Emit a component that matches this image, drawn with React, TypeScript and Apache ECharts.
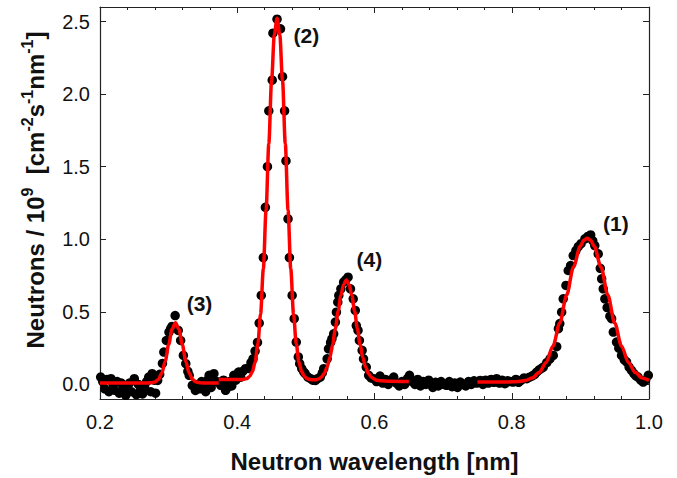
import React, { useEffect, useRef } from "react";
import * as echarts from "echarts";

// Measured points (black dots): wavelength [nm] and intensity [1e9 cm^-2 s^-1 nm^-1]
const measX = [
  0.201, 0.204, 0.207, 0.21, 0.213, 0.216, 0.219, 0.222, 0.225, 0.228,
  0.231, 0.234, 0.2375, 0.24, 0.243, 0.246, 0.25, 0.253, 0.256, 0.259,
  0.262, 0.265, 0.268, 0.271, 0.274, 0.276, 0.279, 0.281, 0.284, 0.287,
  0.291, 0.293, 0.2967, 0.3005, 0.303, 0.305, 0.3095, 0.314, 0.3175, 0.3215,
  0.325, 0.328, 0.33, 0.3345, 0.339, 0.342, 0.345, 0.348, 0.351, 0.354,
  0.357, 0.359, 0.362, 0.366, 0.369, 0.373, 0.376, 0.38, 0.383, 0.386,
  0.389, 0.392, 0.395, 0.398, 0.402, 0.405, 0.408, 0.412, 0.416, 0.42,
  0.423, 0.426, 0.4295, 0.432, 0.435, 0.438, 0.441, 0.444, 0.446, 0.451,
  0.452, 0.458, 0.463, 0.466, 0.469, 0.471, 0.474, 0.476, 0.48, 0.483,
  0.486, 0.489, 0.491, 0.494, 0.497, 0.499, 0.503, 0.507, 0.51, 0.514,
  0.517, 0.521, 0.524, 0.526, 0.531, 0.533, 0.536, 0.538, 0.5405, 0.543,
  0.5445, 0.5465, 0.548, 0.551, 0.555, 0.558, 0.5615, 0.565, 0.569, 0.572,
  0.5735, 0.576, 0.578, 0.582, 0.584, 0.588, 0.5915, 0.595, 0.599, 0.603,
  0.608, 0.612, 0.616, 0.62, 0.624, 0.628, 0.632, 0.636, 0.64, 0.644,
  0.648, 0.651, 0.655, 0.659, 0.663, 0.667, 0.671, 0.675, 0.679, 0.682,
  0.685, 0.689, 0.693, 0.697, 0.701, 0.705, 0.709, 0.713, 0.717, 0.721,
  0.725, 0.729, 0.733, 0.737, 0.741, 0.745, 0.749, 0.754, 0.758, 0.762,
  0.766, 0.77, 0.774, 0.778, 0.782, 0.786, 0.79, 0.794, 0.798, 0.802,
  0.806, 0.81, 0.814, 0.818, 0.822, 0.826, 0.83, 0.8335, 0.8365, 0.84,
  0.843, 0.846, 0.851, 0.8557, 0.8605, 0.8655, 0.868, 0.87, 0.8727, 0.875,
  0.879, 0.8823, 0.8858, 0.8896, 0.8935, 0.897, 0.901, 0.9066, 0.911, 0.915,
  0.918, 0.921, 0.926, 0.929, 0.931, 0.9333, 0.9357, 0.939, 0.943, 0.9455,
  0.948, 0.9527, 0.956, 0.96, 0.964, 0.9673, 0.971, 0.9745, 0.978, 0.981,
  0.984, 0.988, 0.9915, 0.995, 0.999,
];
const measY = [
  0.051, 0.02, -0.03, 0.035, -0.05, 0.04, 0.0, -0.04, 0.02, -0.06,
  0.01, -0.03, -0.075, -0.02, 0.01, -0.05, 0.04, -0.07, 0.0, -0.04,
  -0.065, -0.02, 0.02, 0.051, -0.05, 0.074, 0.03, -0.06, 0.028, 0.07,
  0.145, 0.223, 0.303, 0.361, 0.384, 0.4, 0.475, 0.372, 0.303, 0.2,
  0.143, 0.09, 0.063, -0.006, -0.041, 0.0, -0.03, 0.02, 0.006, -0.05,
  0.03, 0.063, -0.02, 0.074, 0.02, 0.017, -0.006, 0.03, -0.04, -0.02,
  0.02, -0.01, 0.063, 0.03, 0.086, 0.05, 0.09, 0.109, 0.11, 0.15,
  0.177, 0.23, 0.29, 0.423, 0.613, 0.874, 1.22, 1.5, 1.885, 2.096,
  2.42, 2.516, 2.45, 2.12, 1.885, 1.54, 1.14, 0.874, 0.613, 0.453,
  0.292, 0.19, 0.143, 0.11, 0.086, 0.074, 0.05, 0.04, 0.03, 0.028,
  0.04, 0.051, 0.08, 0.109, 0.177, 0.246, 0.29, 0.315, 0.349, 0.43,
  0.498, 0.567, 0.613, 0.659, 0.705, 0.72, 0.739, 0.659, 0.59, 0.51,
  0.406, 0.372, 0.303, 0.235, 0.177, 0.12, 0.063, 0.045, 0.04, 0.02,
  0.058, 0.01, 0.035, 0.0, 0.03, 0.051, 0.01, -0.01, 0.02, 0.0,
  0.04, 0.063, 0.02, 0.0, 0.035, -0.01, 0.02, 0.0, 0.03, 0.006,
  -0.02, 0.015, -0.01, 0.02, 0.0, -0.006, 0.02, -0.015, 0.01, -0.02,
  0.017, 0.0, -0.01, 0.02, 0.0, 0.025, 0.01, 0.028, 0.0, 0.03,
  0.01, 0.035, 0.015, 0.04, 0.01, 0.03, 0.005, 0.025, 0.02, 0.017,
  0.035, 0.015, 0.03, 0.045, 0.04, 0.05, 0.06, 0.07, 0.086, 0.1,
  0.11, 0.12, 0.15, 0.177, 0.2, 0.26, 0.384, 0.42, 0.498, 0.59,
  0.682, 0.785, 0.819, 0.888, 0.922, 0.95, 0.97, 1.003, 1.02, 1.03,
  0.99, 0.957, 0.9, 0.8, 0.728, 0.659, 0.59, 0.53, 0.47, 0.453,
  0.361, 0.292, 0.25, 0.2, 0.17, 0.155, 0.12, 0.097, 0.075, 0.06,
  0.051, 0.03, 0.017, 0.03, 0.063,
];

// Fitted curve (red), three segments
const fitAX = [0.2, 0.25, 0.27, 0.275, 0.28, 0.285, 0.29, 0.295, 0.3, 0.305, 0.31, 0.315, 0.32, 0.325, 0.33, 0.335, 0.34, 0.345, 0.35, 0.373];
const fitAY = [0.01, 0.01, 0.011, 0.012, 0.017, 0.034, 0.078, 0.159, 0.274, 0.381, 0.425, 0.381, 0.274, 0.159, 0.078, 0.034, 0.017, 0.012, 0.01, 0.01];

const fitBX = [
  0.373, 0.39, 0.4, 0.406, 0.41, 0.414, 0.418, 0.422, 0.426, 0.43,
  0.434, 0.438, 0.442, 0.446, 0.45, 0.454, 0.458, 0.462, 0.466, 0.47,
  0.474, 0.478, 0.482, 0.486, 0.49, 0.494, 0.498, 0.502, 0.506, 0.511,
  0.515, 0.519, 0.523, 0.527, 0.531, 0.535, 0.539, 0.543, 0.547, 0.551,
  0.555, 0.559, 0.563, 0.567, 0.571, 0.575, 0.579, 0.583, 0.587, 0.591,
  0.595, 0.599, 0.603, 0.61, 0.62, 0.65,
];
const fitBY = [
  0.034, 0.034, 0.034, 0.034, 0.036, 0.041, 0.055, 0.087, 0.153, 0.278,
  0.486, 0.795, 1.201, 1.659, 2.092, 2.408, 2.523, 2.408, 2.092, 1.659,
  1.201, 0.795, 0.486, 0.278, 0.153, 0.087, 0.055, 0.04, 0.034, 0.032,
  0.032, 0.039, 0.052, 0.078, 0.12, 0.186, 0.275, 0.386, 0.505, 0.613,
  0.689, 0.72, 0.689, 0.613, 0.505, 0.386, 0.275, 0.186, 0.12, 0.078,
  0.052, 0.039, 0.03, 0.025, 0.023, 0.021,
];

const fitCX = [0.75, 0.79, 0.8, 0.81, 0.82, 0.83, 0.84, 0.85, 0.86, 0.87, 0.88, 0.89, 0.9, 0.905, 0.91, 0.915, 0.92, 0.93, 0.94, 0.95, 0.96, 0.97, 0.98, 0.99, 1.0];
const fitCY = [0.017, 0.017, 0.018, 0.021, 0.028, 0.045, 0.082, 0.151, 0.264, 0.424, 0.617, 0.81, 0.954, 0.993, 1.007, 0.993, 0.954, 0.81, 0.617, 0.424, 0.264, 0.151, 0.082, 0.045, 0.028];

const yTickValues = [0, 0.5, 1.0, 1.5, 2.0, 2.5];

const peakLabels = ["(1)", "(2)", "(3)", "(4)"];
const peakLabelX = [0.9517, 0.5008, 0.345, 0.5924];
const peakLabelY = [1.106, 2.406, 0.556, 0.858];

const zip = (xs: number[], ys: number[]) => xs.map((x, i) => [x, ys[i]]);

export default function App() {
  const ref = useRef<HTMLDivElement>(null);
  useEffect(() => {
    document.body.style.margin = "0";
    const chart = echarts.init(ref.current as HTMLDivElement, null, { renderer: "svg" });
    const font = "'Liberation Sans', Arial, sans-serif";
    const axisColor = "#222";
    const textColor = "#111";
    const fitLine = (xs: number[], ys: number[]) => ({
      type: "line",
      data: zip(xs, ys),
      showSymbol: false,
      symbol: "none",
      smooth: 0.3,
      smoothMonotone: "x",
      lineStyle: { color: "#ff0000", width: 3.5 },
      z: 3,
      silent: true,
    });
    chart.setOption({
      animation: false,
      grid: { left: 100, right: 28, top: 7, bottom: 78 },
      xAxis: [
        {
          type: "value",
          min: 0.2,
          max: 1.0,
          interval: 0.2,
          position: "bottom",
          axisLine: { onZero: false, lineStyle: { color: axisColor, width: 1.2 } },
          axisTick: { inside: true, length: 6, lineStyle: { color: axisColor } },
          minorTick: { show: true, splitNumber: 5, length: 3, lineStyle: { color: axisColor } },
          axisLabel: {
            margin: 13,
            fontSize: 20,
            fontFamily: font,
            color: textColor,
            formatter: (v: number) => v.toFixed(1),
          },
          splitLine: { show: false },
          minorSplitLine: { show: false },
          name: "Neutron wavelength [nm]",
          nameLocation: "middle",
          nameGap: 50,
          nameTextStyle: { fontSize: 24, fontWeight: "bold", fontFamily: font, color: textColor },
        },
        {
          type: "value",
          min: 0.2,
          max: 1.0,
          interval: 0.2,
          position: "top",
          axisLine: { onZero: false, lineStyle: { color: axisColor, width: 1.2 } },
          axisTick: { inside: true, length: 6, lineStyle: { color: axisColor } },
          minorTick: { show: true, splitNumber: 5, length: 3, lineStyle: { color: axisColor } },
          axisLabel: { show: false },
          splitLine: { show: false },
        },
      ],
      yAxis: [
        {
          type: "value",
          min: -0.1,
          max: 2.6,
          position: "left",
          axisLine: { show: true, onZero: false, lineStyle: { color: axisColor, width: 1.2 } },
          axisTick: { show: true, inside: true, length: 6, customValues: yTickValues, lineStyle: { color: axisColor } },
          axisLabel: {
            customValues: yTickValues,
            margin: 10,
            fontSize: 20,
            fontFamily: font,
            color: textColor,
            formatter: (v: number) => v.toFixed(1),
          },
          splitLine: { show: false },
        },
        {
          type: "value",
          min: -0.1,
          max: 2.6,
          position: "right",
          axisLine: { show: true, onZero: false, lineStyle: { color: axisColor, width: 1.2 } },
          axisTick: { show: true, inside: true, length: 6, customValues: yTickValues, lineStyle: { color: axisColor } },
          axisLabel: { show: false, customValues: yTickValues },
          splitLine: { show: false },
        },
      ],
      graphic: [
        {
          type: "text",
          x: 35,
          y: 190,
          rotation: Math.PI / 2,
          silent: true,
          style: {
            text: "{b|Neutrons / 10}{s|9}{b|  [cm}{s|-2}{b|s}{s|-1}{b|nm}{s|-1}{b|]}",
            align: "center",
            verticalAlign: "middle",
            fill: textColor,
            rich: {
              b: { fontSize: 24, fontWeight: "bold", fontFamily: font, lineHeight: 32, fill: textColor, verticalAlign: "middle" },
              s: { fontSize: 16, fontWeight: "bold", fontFamily: font, lineHeight: 16, fill: textColor, verticalAlign: "top" },
            },
          },
        },
      ],
      series: [
        {
          type: "scatter",
          data: zip(measX, measY),
          symbol: "circle",
          symbolSize: 9.5,
          itemStyle: { color: "#000", opacity: 1 },
          z: 2,
          silent: true,
        },
        fitLine(fitAX, fitAY),
        fitLine(fitBX, fitBY),
        fitLine(fitCX, fitCY),
        {
          type: "scatter",
          data: zip(peakLabelX, peakLabelY),
          symbolSize: 1,
          itemStyle: { color: "rgba(0,0,0,0)", opacity: 1 },
          z: 4,
          silent: true,
          label: {
            show: true,
            position: "inside",
            formatter: (p: any) => peakLabels[p.dataIndex],
            fontSize: 21,
            fontWeight: "bold",
            fontFamily: font,
            color: textColor,
            opacity: 1,
          },
        },
      ],
    });
    return () => chart.dispose();
  }, []);
  return <div ref={ref} style={{ width: 677, height: 478 }} />;
}
